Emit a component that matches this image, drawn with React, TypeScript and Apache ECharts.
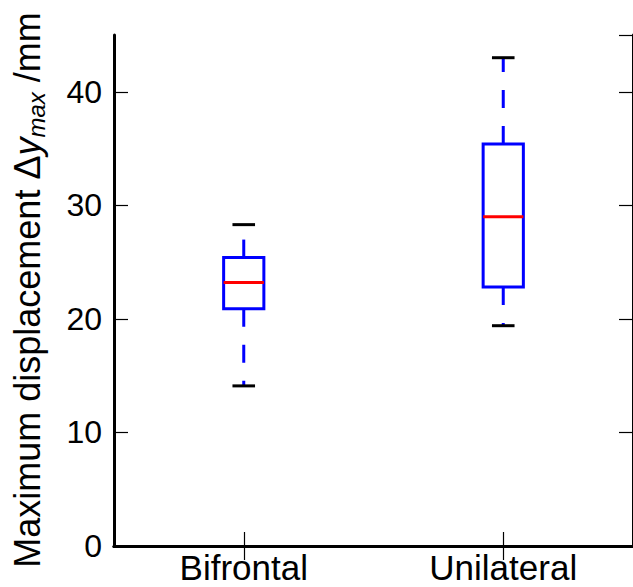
import React, { useEffect, useRef } from "react";
import * as echarts from "echarts";

const categories = ["Bifrontal", "Unilateral"];
const whiskerLow = [14.1, 19.4];
const q1 = [20.9, 22.8];
const medians = [23.2, 29.0];
const q3 = [25.4, 35.4];
const whiskerHigh = [28.3, 43.0];
const yMin = 0;
const yMax = 45;
const yInterval = 10;

const FONT = '"Liberation Sans", Arial, Helvetica, sans-serif';

export default function App() {
  const ref = useRef<HTMLDivElement>(null);
  useEffect(() => {
    if (!ref.current) return;
    const chart = echarts.init(ref.current, undefined, { renderer: "svg" });
    const data = categories.map((c, i) => [i, whiskerLow[i], q1[i], medians[i], q3[i], whiskerHigh[i]]);
    const axisLine = { show: true, lineStyle: { color: "#000", width: 3 } };
    const tick = { show: true, inside: true, length: 14, lineStyle: { color: "#000", width: 1.2 } };
    const option: any = {
      animation: false,
      backgroundColor: "#fff",
      grid: { left: 114, top: 35, width: 528, height: 511, containLabel: false },
      xAxis: [
        {
          type: "category",
          data: categories,
          position: "bottom",
          boundaryGap: true,
          axisLine,
          axisTick: { ...tick, alignWithLabel: true },
          axisLabel: { color: "#000", fontSize: 35, lineHeight: 34, fontFamily: FONT, margin: 4 },
          splitLine: { show: false },
        },
        {
          type: "category",
          data: categories,
          position: "top",
          boundaryGap: true,
          axisLine,
          axisTick: { ...tick, alignWithLabel: true },
          axisLabel: { show: false },
          splitLine: { show: false },
        },
      ],
      yAxis: [
        {
          type: "value",
          min: yMin,
          max: yMax,
          interval: yInterval,
          position: "left",
          axisLine,
          axisTick: tick,
          axisLabel: { color: "#000", fontSize: 32, fontFamily: FONT, margin: 12, showMaxLabel: false },
          splitLine: { show: false },
        },
        {
          type: "value",
          min: yMin,
          max: yMax,
          interval: yInterval,
          position: "right",
          axisLine,
          axisTick: tick,
          axisLabel: { show: false },
          splitLine: { show: false },
        },
      ],
      graphic: [
        {
          type: "text",
          x: 27,
          y: 290,
          rotation: Math.PI / 2,
          style: {
            text: "{a|Maximum displacement Δ}{i|y}{s|max}{a| /mm}",
            align: "center",
            verticalAlign: "middle",
            fill: "#000",
            rich: {
              a: { fontSize: 36, fontFamily: FONT, fill: "#000" },
              i: { fontSize: 36, fontFamily: FONT, fontStyle: "italic", fill: "#000" },
              s: { fontSize: 24, fontFamily: FONT, fontStyle: "italic", fill: "#000", padding: [18, 0, 0, 0] },
            },
          },
        },
      ],
      series: [
        {
          type: "custom",
          data,
          encode: { x: 0, y: [1, 2, 3, 4, 5] },
          clip: false,
          renderItem: (params: any, api: any) => {
            const i = api.value(0);
            const pLow = api.coord([i, api.value(1)]);
            const pQ1 = api.coord([i, api.value(2)]);
            const pMed = api.coord([i, api.value(3)]);
            const pQ3 = api.coord([i, api.value(4)]);
            const pHigh = api.coord([i, api.value(5)]);
            const band = api.size([1, 0])[0];
            const boxW = band * 0.155;
            const capW = band * 0.087;
            const cx = pMed[0];
            const blue = "#0000ff";
            return {
              type: "group",
              children: [
                {
                  type: "line",
                  shape: { x1: cx, y1: pQ1[1], x2: cx, y2: pLow[1] },
                  style: { stroke: blue, lineWidth: 3, lineDash: [18, 18] },
                },
                {
                  type: "line",
                  shape: { x1: cx, y1: pQ3[1], x2: cx, y2: pHigh[1] },
                  style: { stroke: blue, lineWidth: 3, lineDash: [18, 18] },
                },
                {
                  type: "line",
                  shape: { x1: cx - capW / 2, y1: pLow[1], x2: cx + capW / 2, y2: pLow[1] },
                  style: { stroke: "#000", lineWidth: 3 },
                },
                {
                  type: "line",
                  shape: { x1: cx - capW / 2, y1: pHigh[1], x2: cx + capW / 2, y2: pHigh[1] },
                  style: { stroke: "#000", lineWidth: 3 },
                },
                {
                  type: "rect",
                  shape: { x: cx - boxW / 2, y: pQ3[1], width: boxW, height: pQ1[1] - pQ3[1] },
                  style: { stroke: blue, lineWidth: 3, fill: "none" },
                },
                {
                  type: "line",
                  shape: { x1: cx - boxW / 2, y1: pMed[1], x2: cx + boxW / 2, y2: pMed[1] },
                  style: { stroke: "#ff0000", lineWidth: 3 },
                },
              ],
            };
          },
        },
      ],
    };
    chart.setOption(option);
    return () => chart.dispose();
  }, []);
  return (
    <div
      ref={ref}
      style={{ position: "fixed", left: 0, top: 0, width: 633, height: 587, background: "#fff" }}
    />
  );
}
